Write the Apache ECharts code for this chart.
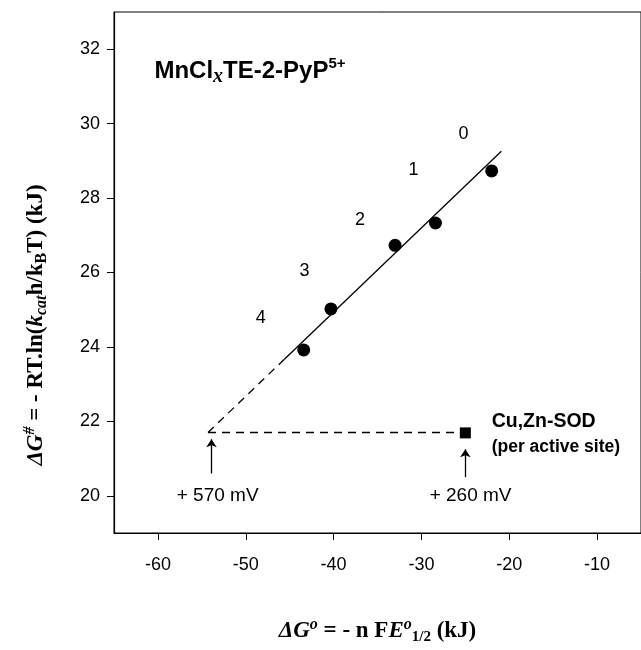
<!DOCTYPE html>
<html>
<head>
<meta charset="utf-8">
<script src="https://cdn.jsdelivr.net/npm/echarts@6/dist/echarts.min.js"></script>
<style>
html,body{margin:0;padding:0;background:#fff;}
#chart{width:641px;height:650px;}
</style>
</head>
<body>
<div id="chart"></div>
<script>
// ---- data ----
const xTicks = [-60, -50, -40, -30, -20, -10];
const yTicks = [20, 22, 24, 26, 28, 30, 32];
const mnX = [-22.0, -28.4, -33.0, -40.3, -43.4];
const mnY = [28.73, 27.33, 26.73, 25.02, 23.92];
const pointLabels = ['0', '1', '2', '3', '4'];
const pointLabelX = [-25.2, -30.9, -37.0, -43.3, -48.3];
const pointLabelY = [29.73, 28.75, 27.40, 26.03, 24.77];
const sodX = [-25.0];
const sodY = [21.69];
const fitSolidX = [-45.6, -20.9];
const fitSolidY = [23.67, 29.26];
const fitDashX = [-54.3, -45.6];
const fitDashY = [21.70, 23.67];
const refDashX = [-54.3, -25.8];
const refDashY = [21.70, 21.70];
const arrowX = [-53.9, -25.0];
const arrowFromY = [20.60, 20.50];
const arrowToY = [21.52, 21.25];
const mvLabels = ['+ 570 mV', '+ 260 mV'];
const mvX = [-53.2, -24.4];
const mvY = [20.0, 20.0];

const zip = (a, b) => a.map((v, i) => [v, b[i]]);
const SANS = '"Liberation Sans", Arial, sans-serif';
const SERIF = '"Liberation Serif", "Times New Roman", serif';

const chart = echarts.init(document.getElementById('chart'), null, {renderer: 'canvas'});

const noEmph = {disabled: true};

const option = {
  animation: false,
  backgroundColor: '#fff',
  grid: {left: 114, top: 12, right: -3, bottom: 112, show: true, borderColor: '#000', borderWidth: 1},
  xAxis: {
    type: 'value', min: -65, max: -5,
    splitLine: {show: false},
    axisLine: {show: true, onZero: false, lineStyle: {color: '#000', width: 1.2}},
    axisTick: {show: true, length: 7, lineStyle: {color: '#000'}, customValues: xTicks},
    axisLabel: {color: '#000', fontFamily: SANS, fontSize: 18, margin: 23, customValues: xTicks},
    name: '{i|ΔG}{si|o}{b| = - n }{f|F}{i|E}{si|o}{sb|1/2}{b| (kJ)}',
    nameLocation: 'middle', nameGap: 84,
    nameTextStyle: {
      color: '#000',
      rich: {
        i: {fontFamily: SERIF, fontStyle: 'italic', fontWeight: 'bold', fontSize: 23, lineHeight: 28, color: '#000'},
        b: {fontFamily: SERIF, fontWeight: 'bold', fontSize: 23, lineHeight: 28, color: '#000'},
        f: {fontFamily: SERIF, fontWeight: 'bold', fontSize: 23, lineHeight: 28, color: '#000'},
        si: {fontFamily: SERIF, fontStyle: 'italic', fontWeight: 'bold', fontSize: 16, verticalAlign: 'top', lineHeight: 15, color: '#000'},
        sb: {fontFamily: SERIF, fontWeight: 'bold', fontSize: 15, verticalAlign: 'bottom', lineHeight: 14, color: '#000'}
      }
    }
  },
  yAxis: {
    type: 'value', min: 19, max: 33,
    splitLine: {show: false},
    axisLine: {show: true, onZero: false, lineStyle: {color: '#000', width: 1.2}},
    axisTick: {show: true, length: 7, lineStyle: {color: '#000'}, customValues: yTicks},
    axisLabel: {color: '#000', fontFamily: SANS, fontSize: 18, margin: 14, customValues: yTicks}
  },
  graphic: [{
    type: 'text',
    x: 36, y: 325,
    rotation: Math.PI / 2,
    style: {
      text: '{i|ΔG}{si|#}{b| = - RT.ln(}{i|k}{sbi|cat}{b|h/k}{sb|B}{b|T) (kJ)}',
      align: 'center', verticalAlign: 'middle',
      rich: {
        i: {fontFamily: SERIF, fontStyle: 'italic', fontWeight: 'bold', fontSize: 23, lineHeight: 28, fill: '#000'},
        b: {fontFamily: SERIF, fontWeight: 'bold', fontSize: 23, lineHeight: 28, fill: '#000'},
        si: {fontFamily: SERIF, fontStyle: 'italic', fontWeight: 'bold', fontSize: 16, verticalAlign: 'top', lineHeight: 15, fill: '#000'},
        sbi: {fontFamily: SERIF, fontStyle: 'italic', fontWeight: 'bold', fontSize: 16, verticalAlign: 'bottom', lineHeight: 14, fill: '#000'},
        sb: {fontFamily: SERIF, fontWeight: 'bold', fontSize: 16, verticalAlign: 'bottom', lineHeight: 14, fill: '#000'}
      }
    }
  }],
  series: [
    {
      name: 'fit', type: 'line', data: zip(fitSolidX, fitSolidY), showSymbol: false, symbol: 'none',
      lineStyle: {color: '#000', width: 1.3}, emphasis: noEmph, silent: true, z: 2
    },
    {
      name: 'fit extrapolated', type: 'line', data: zip(fitDashX, fitDashY), showSymbol: false, symbol: 'none',
      lineStyle: {color: '#000', width: 1.3, type: [8, 6]}, emphasis: noEmph, silent: true, z: 2
    },
    {
      name: 'reference', type: 'line', data: zip(refDashX, refDashY), showSymbol: false, symbol: 'none',
      lineStyle: {color: '#000', width: 1.3, type: [8, 6]}, emphasis: noEmph, silent: true, z: 2
    },
    {
      name: 'MnClxTE-2-PyP', type: 'scatter', data: zip(mnX, mnY), symbol: 'circle', symbolSize: 13,
      itemStyle: {color: '#000', opacity: 1}, emphasis: noEmph, silent: true, z: 3
    },
    {
      name: 'Cu,Zn-SOD', type: 'scatter', data: zip(sodX, sodY), symbol: 'rect', symbolSize: 11,
      itemStyle: {color: '#000', opacity: 1}, emphasis: noEmph, silent: true, z: 3,
      markLine: {
        silent: true, animation: false,
        symbol: ['none', 'arrow'], symbolSize: 8,
        lineStyle: {color: '#000', width: 1.3, type: 'solid', opacity: 1},
        label: {show: false},
        emphasis: {disabled: true},
        data: arrowX.map((x, i) => [{coord: [x, arrowFromY[i]]}, {coord: [x, arrowToY[i]]}])
      }
    },
    {
      name: 'point labels', type: 'scatter', symbolSize: 0, silent: true, emphasis: noEmph,
      itemStyle: {opacity: 1},
      data: pointLabels.map((t, i) => ({value: [pointLabelX[i], pointLabelY[i]], name: t})),
      label: {show: true, position: 'inside', formatter: p => p.name, color: '#000', opacity: 1, fontFamily: SANS, fontSize: 18}
    },
    {
      name: 'mV labels', type: 'scatter', symbolSize: 0, silent: true, emphasis: noEmph,
      itemStyle: {opacity: 1},
      data: mvLabels.map((t, i) => ({value: [mvX[i], mvY[i]], name: t})),
      label: {show: true, position: 'inside', formatter: p => p.name, color: '#000', opacity: 1, fontFamily: SANS, fontSize: 19}
    },
    {
      name: 'texts', type: 'scatter', symbolSize: 0, silent: true, emphasis: noEmph,
      itemStyle: {opacity: 1},
      data: [
        {value: [-60.4, 31.4], label: {formatter: '{b|MnCl}{x|x}{b|TE-2-PyP}{s|5+}'}},
        {value: [-22.0, 21.98], label: {formatter: '{c|Cu,Zn-SOD}'}},
        {value: [-22.0, 21.3], label: {formatter: '{p|(per active site)}'}}
      ],
      label: {
        show: true, position: 'right', distance: 0, opacity: 1,
        rich: {
          b: {fontFamily: SANS, fontWeight: 'bold', fontSize: 24, lineHeight: 30, color: '#000'},
          x: {fontFamily: SERIF, fontStyle: 'italic', fontWeight: 'bold', fontSize: 20, verticalAlign: 'bottom', lineHeight: 17, color: '#000'},
          s: {fontFamily: SANS, fontWeight: 'bold', fontSize: 15, verticalAlign: 'top', lineHeight: 15, color: '#000'},
          c: {fontFamily: SANS, fontWeight: 'bold', fontSize: 19.5, color: '#000'},
          p: {fontFamily: SANS, fontWeight: 'bold', fontSize: 17.5, color: '#000'}
        }
      }
    }
  ]
};
chart.setOption(option);
</script>
</body>
</html>
